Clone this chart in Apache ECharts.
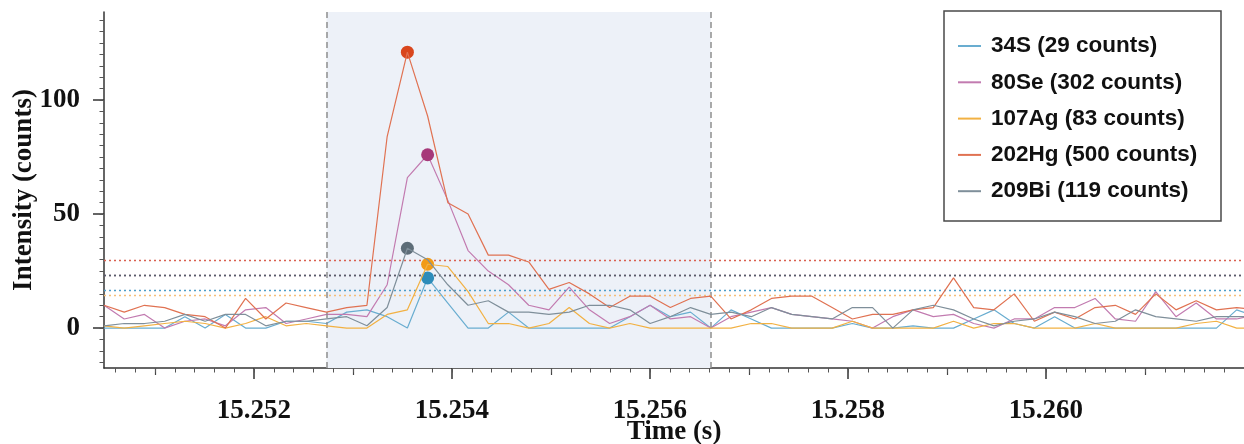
<!DOCTYPE html>
<html>
<head>
<meta charset="utf-8">
<script src="https://cdn.jsdelivr.net/npm/echarts@6/dist/echarts.min.js"></script>
<style>html,body{margin:0;padding:0;background:#fff}#c{width:1244px;height:444px}</style>
</head>
<body>
<div id="c"></div>
<script>
// ---- data ----
const seriesNames = ['34S (29 counts)', '80Se (302 counts)', '107Ag (83 counts)', '202Hg (500 counts)', '209Bi (119 counts)'];
const tStart = 15.250485;   // time of first sample (s)
const tStep = 0.0002043;    // sampling interval (s)
const s34S  = [0,0,0,0,5,0,6,0,0,3, 3,2,7,8,5,0,22,11,0,0, 7,0,0,0,0,0,5,10,5,7, 0,8,4,0,0,0,0,2,0,0, 1,0,0,4,8,2,0,5,0,0, 0,0,0,0,0,0,8,5];
const s80Se = [10,4,6,0,3,4,1,8,9,2, 4,6,6,5,19,66,76,56,34,25, 19,10,8,18,8,2,5,10,4,5, 0,5,7,9,6,5,4,3,0,5, 8,5,6,2,0,4,4,9,9,13, 4,3,16,5,11,4,4,6];
const s107Ag= [1,0,1,2,3,2,0,2,5,1, 2,1,0,0,6,8,28,27,16,2, 2,0,2,9,2,0,2,0,0,0, 0,0,2,2,0,0,0,3,0,0, 0,0,3,0,2,2,0,0,0,2, 0,0,0,0,2,3,0,0];
const s202Hg= [10,7,10,9,6,5,0,13,4,11, 9,7,9,10,84,121,93,55,50,32, 32,29,17,20,15,9,14,14,9,13, 14,4,8,13,14,14,9,4,6,6, 8,9,22,9,8,15,3,7,4,9, 10,6,15,8,12,8,9,8];
const s209Bi= [1,2,2,3,6,3,6,6,1,3, 3,4,5,1,9,35,30,19,10,12, 7,7,6,7,10,10,8,2,5,9, 6,7,5,9,6,5,4,9,9,0, 8,10,8,4,1,3,4,7,5,2, 3,8,5,4,3,5,5,5];
const thresholds = [16.7, 23.1, 14.3, 29.8, 23.1];
const regionStartIdx = 11, regionEndIdx = 30;
const xMin = 15.250485, xMax = 15.262;
const yMin = -17.5, yMax = 138.6;
const xLabelTicks = [15.252, 15.254, 15.256, 15.258, 15.260];
const xMidTicks = [15.251, 15.253, 15.255, 15.257, 15.259, 15.261];
const yLabelTicks = [0, 50, 100];

const lineColors = ['#69add0', '#c27bb0', '#f2b143', '#e07252', '#7f8f9a'];
const dotColors  = ['#2d8cba', '#a6397a', '#f29b16', '#d9461d', '#5d6d78'];
const thrColors  = ['#4e9dc8', '#8a4f80', '#f5be78', '#d9604f', '#555e68'];

const allValues = [s34S, s80Se, s107Ag, s202Hg, s209Bi];
const times = s34S.map((_, i) => tStart + i * tStep);

const xMinor = []; for (let k = 0; k <= 60; k++) { const v = +(15.2504 + k * 0.0002).toFixed(4); if (v >= xMin && v <= xMax) xMinor.push(v); }
const yMinor = []; for (let v = -15; v <= 135; v += 5) yMinor.push(v);

const serif = 'Liberation Serif';
const tickFont = { fontFamily: serif, fontWeight: 'bold', fontSize: 27, color: '#111' };

const series = allValues.map((vals, k) => {
  const mlData = [{ yAxis: thresholds[k] }];
  const s = {
    name: seriesNames[k],
    type: 'line',
    z: 3 + k,
    xAxisIndex: 0, yAxisIndex: 0,
    data: vals.map((v, i) => [times[i], v]),
    showSymbol: false,
    symbol: 'none',
    lineStyle: { color: lineColors[k], width: 1.2 },
    itemStyle: { color: lineColors[k] },
    emphasis: { disabled: true },
    markLine: {
      silent: true, symbol: 'none', label: { show: false }, precision: 8,
      lineStyle: { type: [2, 3], color: thrColors[k], width: 1.4 },
      data: mlData
    },
    markPoint: {
      symbol: 'circle', symbolSize: 13, silent: true,
      label: { show: false },
      itemStyle: { color: dotColors[k] },
      data: [{ type: 'max' }]
    }
  };
  if (k === 0) {
    s.markArea = { silent: true, itemStyle: { color: '#edf1f8' },
      data: [[{ xAxis: times[regionStartIdx] }, { xAxis: times[regionEndIdx] }]] };
    const dash = { type: [6, 4], color: '#8e8e8e', width: 1.5 };
    mlData.push({ xAxis: times[regionStartIdx], lineStyle: dash });
    mlData.push({ xAxis: times[regionEndIdx], lineStyle: dash });
  }
  return s;
});

const chart = echarts.init(document.getElementById('c'), null, { renderer: 'canvas' });
chart.setOption({
  animation: false,
  backgroundColor: '#fff',
  grid: { left: 104, right: 0, top: 12, bottom: 76, containLabel: false, outerBoundsMode: 'none' },
  xAxis: [
    { type: 'value', min: xMin, max: xMax, position: 'bottom',
      name: 'Time (s)', nameLocation: 'middle', nameGap: 50, nameMoveOverlap: false,
      nameTextStyle: { fontFamily: serif, fontWeight: 'bold', fontSize: 27, color: '#111', lineHeight: 28 },
      axisLine: { show: true, onZero: false, lineStyle: { color: '#333', width: 1.5 } },
      axisTick: { show: true, length: 11, customValues: xLabelTicks, lineStyle: { color: '#333', width: 1.5 } },
      axisLabel: Object.assign({ customValues: xLabelTicks, margin: 30, formatter: v => v.toFixed(3) }, tickFont),
      splitLine: { show: false } },
    { type: 'value', min: xMin, max: xMax, position: 'bottom',
      axisLine: { show: false, onZero: false }, axisLabel: { show: false }, splitLine: { show: false },
      axisTick: { show: true, length: 7, customValues: xMidTicks, lineStyle: { color: '#444', width: 1.2 } } },
    { type: 'value', min: xMin, max: xMax, position: 'bottom',
      axisLine: { show: false, onZero: false }, axisLabel: { show: false }, splitLine: { show: false },
      axisTick: { show: true, length: 4.5, customValues: xMinor, lineStyle: { color: '#555', width: 1 } } }
  ],
  yAxis: [
    { type: 'value', min: yMin, max: yMax, position: 'left',
      name: 'Intensity (counts)', nameLocation: 'middle', nameGap: 66, nameMoveOverlap: false,
      nameTextStyle: { fontFamily: serif, fontWeight: 'bold', fontSize: 27, color: '#111', lineHeight: 28 },
      axisLine: { show: true, onZero: false, lineStyle: { color: '#333', width: 1.5 } },
      axisTick: { show: true, length: 11, customValues: yLabelTicks, lineStyle: { color: '#333', width: 1.5 } },
      axisLabel: Object.assign({ customValues: yLabelTicks, margin: 24 }, tickFont),
      splitLine: { show: false } },
    { type: 'value', min: yMin, max: yMax, position: 'left',
      axisLine: { show: false, onZero: false }, axisLabel: { show: false }, splitLine: { show: false },
      axisTick: { show: true, length: 4.5, customValues: yMinor, lineStyle: { color: '#555', width: 1 } } }
  ],
  legend: {
    data: seriesNames, orient: 'vertical', left: 958, top: 33, z: 6, padding: 0,
    icon: 'rect', itemWidth: 23, itemHeight: 2, itemGap: 10.3,
    selectedMode: false,
    textStyle: { fontFamily: 'Liberation Sans', fontWeight: 'bold', fontSize: 22.5, color: '#111', lineHeight: 26, padding: [0, 0, 0, 5] }
  },
  graphic: [{ type: 'rect', z: 5, shape: { x: 944, y: 11, width: 277, height: 210 },
    style: { fill: '#fff', stroke: '#4a4a4a', lineWidth: 1.5 } }],
  series: series
});
</script>
</body>
</html>
